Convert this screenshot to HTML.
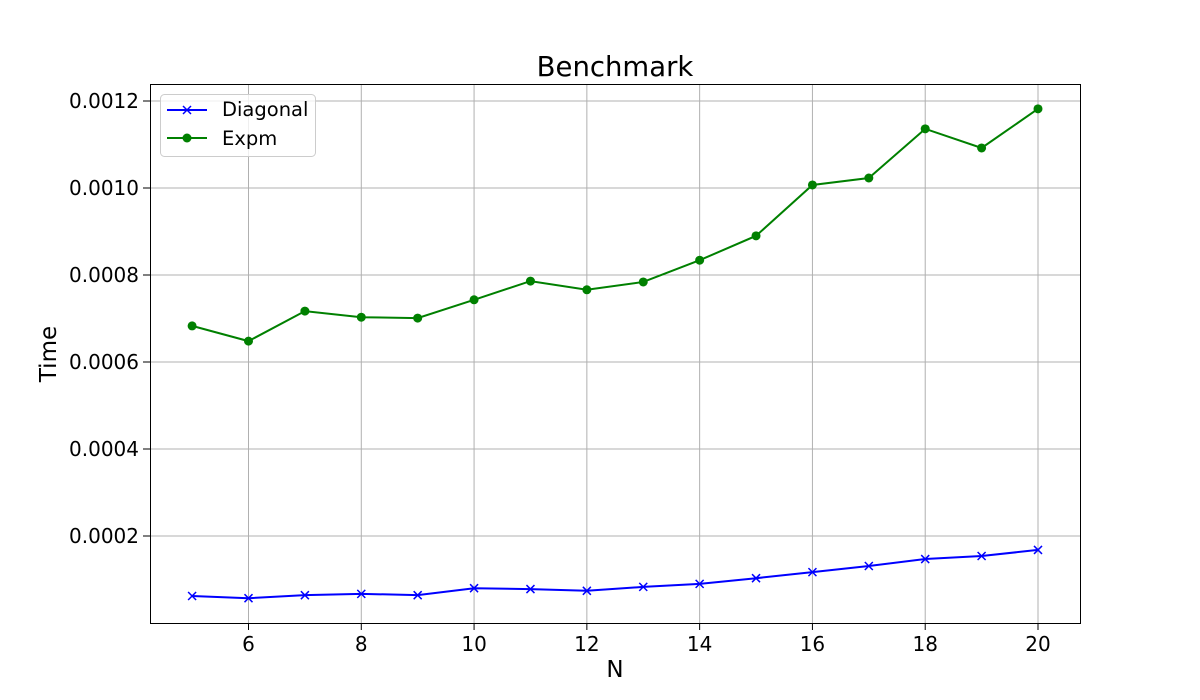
<!DOCTYPE html>
<html><head><meta charset="utf-8"><style>
html,body{margin:0;padding:0;background:#fff;}
svg{display:block;font-family:"DejaVu Sans","Liberation Sans",sans-serif;}
</style></head><body>
<svg id="chart" width="1200" height="700">
<rect x="0" y="0" width="1200" height="700" fill="#fff"/>
<g id="grid"></g><g id="series"></g><g id="ticks"></g>
<rect x="150.5" y="84.5" width="930" height="539" fill="none" stroke="#000" stroke-width="1"/>
<text x="615" y="76" font-size="27.5" text-anchor="middle">Benchmark</text>
<text x="615" y="677" font-size="23" text-anchor="middle">N</text>
<text x="56" y="354" font-size="23" text-anchor="middle" transform="rotate(-90 56 354)">Time</text>
<g>
<rect x="160.5" y="94.5" width="155" height="62" rx="4" fill="#fff" fill-opacity="0.8" stroke="#ccc"/>
<g>
<line x1="167" y1="110" x2="207" y2="110" stroke="#0000ff" stroke-width="2"/>
<path d="M183,106 L191,114 M183,114 L191,106" stroke="#0000ff" stroke-width="1.5"/>
<text x="222" y="116" font-size="19.5">Diagonal</text></g>
<g>
<line x1="167" y1="138" x2="207" y2="138" stroke="#008000" stroke-width="2"/>
<circle cx="187" cy="138" r="4.5" fill="#008000"/>
<text x="222" y="145" font-size="19.5">Expm</text></g>
</g>
</svg>
<script>
const nValues=[5,6,7,8,9,10,11,12,13,14,15,16,17,18,19,20];
const diagonalTimes=[0.000062,0.000057,0.000064,0.000067,0.000064,0.000080,0.000078,0.000074,0.000083,0.000090,0.000103,0.000117,0.000131,0.000147,0.000154,0.000168];
const expmTimes=[0.000683,0.000648,0.000717,0.000703,0.000701,0.000743,0.000786,0.000766,0.000784,0.000834,0.000890,0.001007,0.001023,0.001136,0.001092,0.001182];
const xTicks=[6,8,10,12,14,16,18,20];
const yTicks=[0.0002,0.0004,0.0006,0.0008,0.0010,0.0012];
const yTickLabels=["0.0002","0.0004","0.0006","0.0008","0.0010","0.0012"];
const NS="http://www.w3.org/2000/svg";
function xs(v){return 248.5+(v-6)*(1038-248.5)/14;}
function ys(v){return 623-v*435000;}
function mk(tag,attrs,parent){const e=document.createElementNS(NS,tag);for(const k in attrs)e.setAttribute(k,attrs[k]);parent.appendChild(e);return e;}
const grid=document.getElementById('grid'),ticks=document.getElementById('ticks'),ser=document.getElementById('series');
xTicks.forEach(t=>{const x=xs(t);
 const g=mk('line',{x1:x,y1:84,x2:x,y2:623,stroke:'#b0b0b0','stroke-width':1},grid);
 
 
 mk('line',{x1:x,y1:623,x2:x,y2:630,stroke:'#000'},ticks);
 const l=mk('text',{x:x,y:651,'font-size':20,'text-anchor':'middle'},ticks);l.textContent=t;
 
 });
yTicks.forEach((t,i)=>{const y=ys(t);
 const g=mk('line',{x1:150,y1:y,x2:1080,y2:y,stroke:'#b0b0b0','stroke-width':1},grid);
 
 
 mk('line',{x1:143,y1:y,x2:150,y2:y,stroke:'#000'},ticks);
 const l=mk('text',{x:139,y:y+7,'font-size':20,'text-anchor':'end'},ticks);l.textContent=yTickLabels[i];
 
 });
function series(vals,color,marker,name){
 const pts=nValues.map((n,i)=>xs(n)+','+ys(vals[i])).join(' ');
 const pl=mk('polyline',{points:pts,fill:'none',stroke:color,'stroke-width':2},ser);
 
 
 nValues.forEach((n,i)=>{const x=xs(n),y=ys(vals[i]);let m;
  if(marker==='x')m=mk('path',{d:`M${x-4},${y-4}L${x+4},${y+4}M${x-4},${y+4}L${x+4},${y-4}`,stroke:color,'stroke-width':1.5},ser);
  else m=mk('circle',{cx:x,cy:y,r:4.5,fill:color},ser);
  
  });
}
series(diagonalTimes,'#0000ff','x','diagonal');
series(expmTimes,'#008000','o','expm');
</script>
</body></html>
